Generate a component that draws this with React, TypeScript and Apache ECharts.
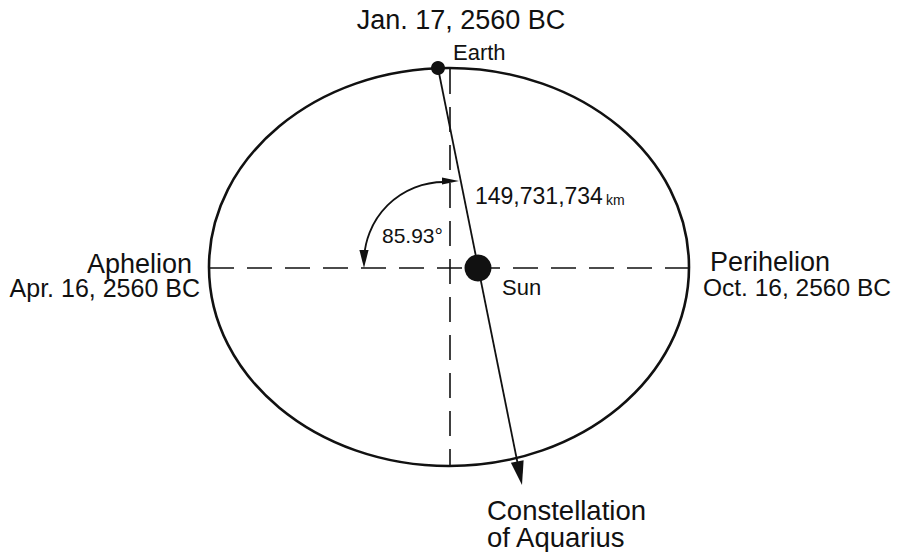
import React, { useEffect, useRef } from "react";
import * as echarts from "echarts";

// ---- diagram data (diagram units = page pixels, y downward) ----
const CANVAS_W = 897;
const CANVAS_H = 552;

// orbit: centre x, centre y, semi-axis x, semi-axis y
const orbit = [449, 267, 240, 199];
// apsis line (aphelion -> perihelion) and minor axis line
const apsisLine = [[209, 268], [689, 268]];
const minorLine = [[450, 69], [450, 465]];
// bodies: x, y, radius
const earth = [438, 68, 7];
const sun = [478, 268, 13.5];
// direction to the constellation: arrow tip
const aquariusTip = [522, 485];
// angle arc: centre x, centre y, radius, start deg, end deg (screen, clockwise from +x)
const angleArc = [444, 262, 80, -90, -180];
const angleArrowTop = [459, 181];
const angleArrowLeft = [364, 268];

const labelTexts = [
  "Jan. 17, 2560 BC",
  "Earth",
  "149,731,734",
  "km",
  "85.93°",
  "Sun",
  "Aphelion",
  "Apr. 16, 2560 BC",
  "Perihelion",
  "Oct. 16, 2560 BC",
  "Constellation",
  "of Aquarius",
];
const labelX = [461, 453, 475, 606, 382, 502, 192, 200, 710, 703, 487, 487];
const labelY = [20, 52.5, 196, 200, 235, 287.5, 264, 287.5, 262, 287, 510, 537];
const labelSize = [27, 22, 23, 14, 21, 22, 27, 25, 27, 24.5, 27.5, 27.5];
const labelAlign = ["center", "left", "left", "left", "left", "left", "right", "right", "left", "left", "left", "left"];

const FONT = "'Liberation Sans', Arial, Helvetica, sans-serif";
const INK = "#111";

function arrowHead(api: any, tip: number[], from: number[], len: number, half: number) {
  const t = api.coord(tip);
  const f = api.coord(from);
  const dx = t[0] - f[0];
  const dy = t[1] - f[1];
  const d = Math.sqrt(dx * dx + dy * dy);
  const ux = dx / d;
  const uy = dy / d;
  const bx = t[0] - ux * len;
  const by = t[1] - uy * len;
  return {
    type: "polygon",
    shape: {
      points: [
        [t[0], t[1]],
        [bx - uy * half, by + ux * half],
        [bx + uy * half, by - ux * half],
      ],
    },
    style: { fill: INK },
  };
}

export default function App() {
  const ref = useRef<HTMLDivElement>(null);

  useEffect(() => {
    if (!ref.current) return;
    const chart = echarts.init(ref.current, undefined, { renderer: "svg" });

    const option: any = {
      animation: false,
      backgroundColor: "#ffffff",
      grid: { left: 0, right: 0, top: 0, bottom: 0 },
      xAxis: { type: "value", min: 0, max: CANVAS_W, show: false },
      yAxis: { type: "value", min: 0, max: CANVAS_H, inverse: true, show: false },
      series: [
        {
          // orbit ellipse
          type: "custom",
          silent: true,
          clip: false,
          data: [[orbit[0], orbit[1]]],
          renderItem: (params: any, api: any) => {
            const c = api.coord([orbit[0], orbit[1]]);
            const e = api.coord([orbit[0] + orbit[2], orbit[1] + orbit[3]]);
            return {
              type: "ellipse",
              shape: { cx: c[0], cy: c[1], rx: Math.abs(e[0] - c[0]), ry: Math.abs(e[1] - c[1]) },
              style: { fill: "none", stroke: INK, lineWidth: 2.6 },
            };
          },
        },
        {
          // dashed guide lines
          type: "custom",
          silent: true,
          clip: false,
          data: [[0]],
          renderItem: (params: any, api: any) => {
            const lines = [apsisLine, minorLine];
            return {
              type: "group",
              children: lines.map((ln) => {
                const a = api.coord(ln[0]);
                const b = api.coord(ln[1]);
                return {
                  type: "line",
                  shape: { x1: a[0], y1: a[1], x2: b[0], y2: b[1] },
                  style: { stroke: INK, lineWidth: 1.6, lineDash: [25, 13] },
                };
              }),
            };
          },
        },
        {
          // Earth -> Sun -> Aquarius sight line
          type: "custom",
          silent: true,
          clip: false,
          data: [[0]],
          renderItem: (params: any, api: any) => {
            const a = api.coord([earth[0], earth[1]]);
            const b = api.coord(aquariusTip);
            const dx = b[0] - a[0];
            const dy = b[1] - a[1];
            const d = Math.sqrt(dx * dx + dy * dy);
            const endX = b[0] - (dx / d) * 12;
            const endY = b[1] - (dy / d) * 12;
            return {
              type: "group",
              children: [
                {
                  type: "line",
                  shape: { x1: a[0], y1: a[1], x2: endX, y2: endY },
                  style: { stroke: INK, lineWidth: 1.8 },
                },
                arrowHead(api, aquariusTip, [earth[0], earth[1]], 24, 6.5),
              ],
            };
          },
        },
        {
          // angle arc with two arrow heads
          type: "custom",
          silent: true,
          clip: false,
          data: [[0]],
          renderItem: (params: any, api: any) => {
            const c = api.coord([angleArc[0], angleArc[1]]);
            const r = Math.abs(api.coord([angleArc[0] + angleArc[2], angleArc[1]])[0] - c[0]);
            return {
              type: "group",
              children: [
                {
                  type: "arc",
                  shape: {
                    cx: c[0],
                    cy: c[1],
                    r,
                    startAngle: (angleArc[3] * Math.PI) / 180,
                    endAngle: (angleArc[4] * Math.PI) / 180,
                    clockwise: false,
                  },
                  style: { fill: "none", stroke: INK, lineWidth: 1.8 },
                },
                arrowHead(api, angleArrowTop, [angleArrowTop[0] - 20, angleArrowTop[1]], 17, 3.6),
                arrowHead(api, angleArrowLeft, [angleArrowLeft[0], angleArrowLeft[1] - 20], 18, 4.6),
              ],
            };
          },
        },
        {
          // Earth and Sun
          type: "custom",
          silent: true,
          clip: false,
          data: [earth, sun],
          renderItem: (params: any, api: any) => {
            const c = api.coord([api.value(0), api.value(1)]);
            const r = Math.abs(api.coord([api.value(0) + api.value(2), api.value(1)])[0] - c[0]);
            return {
              type: "circle",
              shape: { cx: c[0], cy: c[1], r },
              style: { fill: INK },
            };
          },
        },
        {
          // labels
          type: "custom",
          silent: true,
          clip: false,
          data: labelTexts.map((_, i) => [labelX[i], labelY[i], i]),
          renderItem: (params: any, api: any) => {
            const i = api.value(2);
            const p = api.coord([api.value(0), api.value(1)]);
            return {
              type: "text",
              x: p[0],
              y: p[1],
              style: {
                text: labelTexts[i],
                fontSize: labelSize[i],
                fontFamily: FONT,
                fill: INK,
                align: labelAlign[i],
                verticalAlign: "middle",
              },
            };
          },
        },
      ],
    };

    chart.setOption(option);
    return () => chart.dispose();
  }, []);

  return (
    <div
      ref={ref}
      style={{ position: "fixed", left: 0, top: 0, width: CANVAS_W, height: CANVAS_H, background: "#fff" }}
    />
  );
}
